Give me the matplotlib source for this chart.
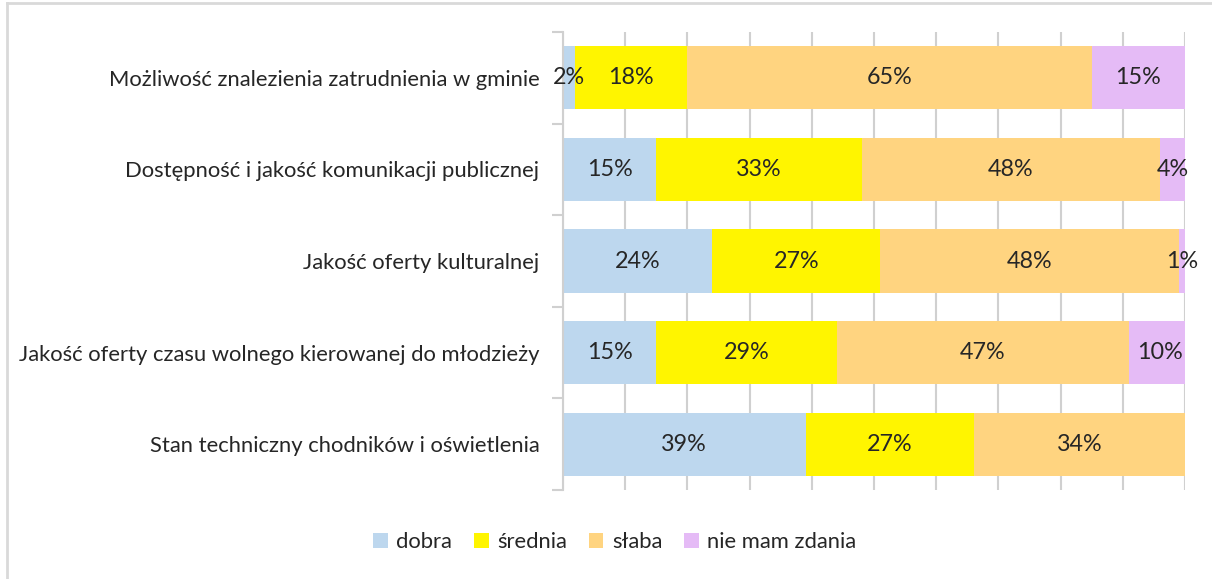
import matplotlib
matplotlib.use("Agg")
import matplotlib.pyplot as plt
import numpy as np
from matplotlib.lines import Line2D

plt.rcParams['font.family'] = ['Lato', 'DejaVu Sans']

categories = [
    "Możliwość znalezienia zatrudnienia w gminie",
    "Dostępność i jakość komunikacji publicznej",
    "Jakość oferty kulturalnej",
    "Jakość oferty czasu wolnego kierowanej do młodzieży",
    "Stan techniczny chodników i oświetlenia",
]
series = ["dobra", "średnia", "słaba", "nie mam zdania"]
dobra = [2, 15, 24, 15, 39]
srednia = [18, 33, 27, 29, 27]
slaba = [65, 48, 48, 47, 34]
brak = [15, 4, 1, 10, 0]
colors = ["#BDD7EE", "#FFF500", "#FFD480", "#E5BBF6"]

fs = 15.8

fig = plt.figure(figsize=(12.12, 5.79), dpi=100)
ax = fig.add_axes([563 / 1212, 89 / 579, 622 / 1212, 458 / 579])

y = np.arange(len(categories))
left = np.zeros(len(categories))
for name, vals, col in zip(series, [dobra, srednia, slaba, brak], colors):
    vals = np.array(vals, dtype=float)
    ax.barh(y, vals, left=left, height=0.69, color=col, label=name, zorder=2)
    for yi, l, v in zip(y, left, vals):
        if v > 0:
            ax.text(l + v / 2, yi, f"{int(v)}%", ha="center", va="center",
                    fontsize=16.8, color="#262626", zorder=3)
    left += vals

ax.set_xlim(0, 100)
ax.set_ylim(len(categories) - 0.5, -0.5)
ax.set_xticks(np.arange(0, 101, 10))
ax.set_xticklabels([])
ax.tick_params(axis="x", length=0)
ax.grid(axis="x", color="#D0D0D0", linewidth=1.5, zorder=0)
ax.set_yticks(y)
ax.set_yticklabels(categories, fontsize=fs, color="#262626")
ax.tick_params(axis="y", which="major", length=0, pad=17)
ax.set_yticks(np.arange(-0.5, len(categories), 1), minor=True)
ax.tick_params(axis="y", which="minor", length=8, color="#D0D0D0", width=1.5)
for s in ["top", "right", "bottom"]:
    ax.spines[s].set_visible(False)
ax.spines["left"].set_color("#D0D0D0")
ax.spines["left"].set_linewidth(1.5)

ax.legend(loc="center", bbox_to_anchor=(615 / 1212, 37 / 579),
          bbox_transform=fig.transFigure, ncol=4, frameon=False,
          fontsize=fs, handlelength=0.65, handleheight=0.7,
          handletextpad=0.4, columnspacing=1.0, labelcolor="#262626")

# chart area border (only top and left visible in the crop)
fig.add_artist(Line2D([7 / 1212, 7 / 1212], [0, 1 - 3 / 579],
                      transform=fig.transFigure, color="#D9D9D9", lw=2))
fig.add_artist(Line2D([7 / 1212, 1], [1 - 3 / 579, 1 - 3 / 579],
                      transform=fig.transFigure, color="#D9D9D9", lw=2))

fig.savefig("out.png", dpi=100)
